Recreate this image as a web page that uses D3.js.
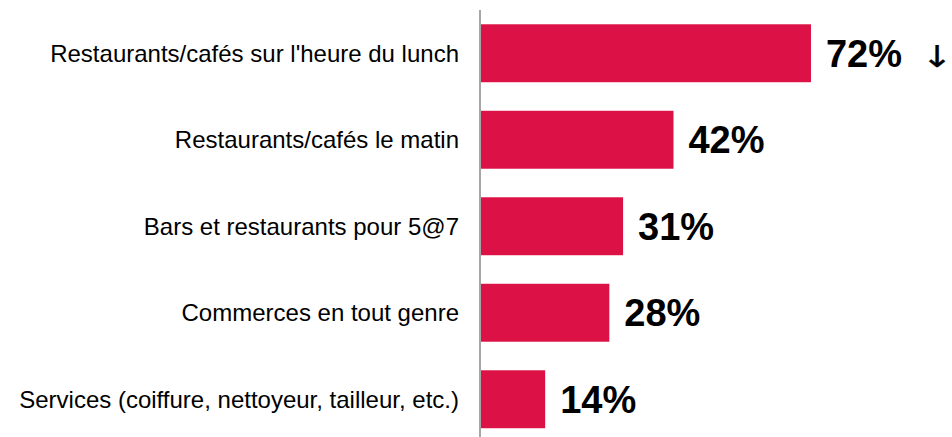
<!DOCTYPE html>
<html><head><meta charset="utf-8">
<script src="https://cdn.jsdelivr.net/npm/d3@7"></script>
<style>body{margin:0;background:#fff;} svg{display:block;}</style>
</head><body>
<svg id="c" width="952" height="437"></svg>
<script>
const categories = ["Restaurants/cafés sur l'heure du lunch","Restaurants/cafés le matin","Bars et restaurants pour 5@7","Commerces en tout genre","Services (coiffure, nettoyeur, tailleur, etc.)"];
const values = [72, 42, 31, 28, 14];
const valueLabels = ["72%","42%","31%","28%","14%"];
const markers = ["↓","","","",""];

const svg = d3.select("#c");
const x = d3.scaleLinear().domain([0, 100]).range([481, 939.3]);
const y = d3.scaleBand().domain(categories).range([10, 442.5]).paddingInner(0.33).paddingOuter(0.165);

svg.append("line").attr("x1", 480).attr("x2", 480).attr("y1", 10).attr("y2", 437)
  .attr("stroke", "#a6a6a6").attr("stroke-width", 2);

svg.selectAll("rect.bar").data(values).join("rect").attr("class","bar")
  .attr("x", x(0)).attr("y", (d,i)=>y(categories[i]))
  .attr("width", d=>x(d)-x(0)).attr("height", y.bandwidth())
  .attr("fill", "#dc1246");

svg.selectAll("text.cat").data(categories).join("text").attr("class","cat")
  .attr("x", 459).attr("y", d=>y(d)+y.bandwidth()/2)
  .attr("dy","0.35em").attr("text-anchor","end")
  .attr("font-family","'Liberation Sans', Arial, sans-serif").attr("font-size", 24)
  .attr("fill","#000").text(d=>d);

svg.selectAll("text.val").data(values).join("text").attr("class","val")
  .attr("x", d=>x(d)+15).attr("y", (d,i)=>y(categories[i])+y.bandwidth()/2)
  .attr("dy","0.36em")
  .attr("font-family","'Liberation Sans', Arial, sans-serif").attr("font-size", 38).attr("font-weight","bold")
  .attr("fill","#000").text((d,i)=>valueLabels[i]);

svg.selectAll("text.mk").data(values).join("text").attr("class","mk")
  .attr("transform", (d,i)=>`translate(937,${y(categories[i])+y.bandwidth()/2 + 14}) scale(1.25,1)`)
  .attr("text-anchor","middle")
  .attr("font-family","'DejaVu Sans', sans-serif").attr("font-size", 30)
  .attr("fill","#000").attr("stroke","#000").attr("stroke-width",0.3)
  .text((d,i)=>markers[i]);
</script>
</body></html>
